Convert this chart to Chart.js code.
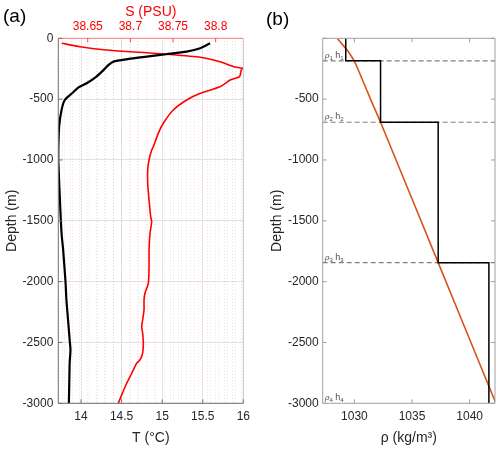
<!DOCTYPE html>
<html>
<head>
<meta charset="utf-8">
<script src="https://cdn.jsdelivr.net/npm/chart.js@4.4.1/dist/chart.umd.min.js"></script>
<style>
    body { margin: 0; background: #fff; width: 500px; height: 449px; overflow: hidden; position: relative; font-family: "Liberation Sans", Arial, sans-serif; }
    canvas { position: absolute; top: 0; }
    #profileChart { left: 0; }
    #densityChart { left: 250px; }
    .panel-tag { position: absolute; font-size: 19px; line-height: 1; color: #000; }
</style>
</head>
<body>
<canvas id="profileChart" width="250" height="449"></canvas>
<canvas id="densityChart" width="250" height="449"></canvas>
<div class="panel-tag" style="left:3px;top:6px;">(a)</div>
<div class="panel-tag" style="left:266px;top:9px;">(b)</div>
<script>
// panel (a): temperature profile
const tDepth = [-41, -82, -110, -131, -151, -173, -192, -219, -266, -315, -370, -403, -452, -507, -589, -726, -918,
                -1000, -1329, -1602, -1740, -2013, -2150, -2315, -2479, -2561, -2670, -2835, -3000];
const tempC = [15.59, 15.47, 15.30, 15.05, 14.81, 14.56, 14.40, 14.34, 14.27, 14.19, 14.07, 13.97, 13.89, 13.80, 13.76, 13.73, 13.72,
               13.72, 13.74, 13.76, 13.78, 13.81, 13.82, 13.84, 13.86, 13.87, 13.86, 13.855, 13.85];

// panel (a): salinity profile
const sDepth = [-41, -69, -96, -115, -131, -156, -192, -233, -247, -260, -315, -343, -398, -452, -507, -589, -698, -781, -891, -918,
                -1000, -1082, -1191, -1329, -1466, -1507, -1602, -1740, -1877, -2013, -2095, -2150, -2233, -2315, -2370, -2424,
                -2506, -2588, -2643, -2670, -2753, -2835, -2931, -3000];
const salt = [38.6195, 38.641, 38.672, 38.711, 38.743, 38.782, 38.805, 38.821, 38.8317, 38.830, 38.828, 38.817, 38.805, 38.782,
              38.766, 38.7503, 38.7386, 38.7327, 38.7269, 38.725, 38.7219, 38.7203, 38.7203, 38.7219, 38.7238, 38.725, 38.723,
              38.7219, 38.7219, 38.7211, 38.7171, 38.716, 38.716, 38.7144, 38.7133, 38.7144, 38.7152, 38.7144, 38.7113,
              38.7074, 38.7016, 38.6957, 38.6898, 38.6858];

// panel (b): continuous density and 4-layer approximation
const rhoDepth = [0, -50, -100, -150, -190, -240, -330, -500, -690, -1844, -3000];
const rhoCurve = [1028.5, 1028.95, 1029.4, 1029.75, 1030.0, 1030.25, 1030.65, 1031.4, 1032.27, 1037.27, 1042.28];
const layerRho = [1029.25, 1032.27, 1037.27, 1041.67];
const layerBottom = [-185, -690, -1844, -3000];

// axis limits
const depthMin = -3000, depthMax = 0;
const tMin = 13.72, tMax = 16;
const sMin = 38.6155, sMax = 38.8324;
const rhoMin = 1027.25, rhoMax = 1042.2;

const ink = '#262626';
Chart.defaults.font.family = '"Liberation Sans", Arial, sans-serif';
Chart.defaults.font.size = 12;
Chart.defaults.color = ink;

const isMajor = (v, step) => Math.abs(v / step - Math.round(v / step)) < 1e-6;
const toPoints = (xs, ys) => xs.map((x, i) => ({ x: x, y: ys[i] }));

// fixed axis box size, and no extra room for end labels (they may be clipped like the original)
const fixHeight = h => s => { s.height = h; s.paddingLeft = 0; s.paddingRight = 0; };

// box round the plot area + inward tick marks (MATLAB look)
function makeFrame(cfg) {
    return {
        id: 'frame',
        afterDraw(chart) {
            const { ctx, chartArea: a } = chart;
            ctx.save();
            ctx.lineWidth = 1;
            const edges = {
                top: [a.left, a.top, a.right, a.top],
                bottom: [a.left, a.bottom, a.right, a.bottom],
                left: [a.left, a.top, a.left, a.bottom],
                right: [a.right, a.top, a.right, a.bottom]
            };
            Object.keys(cfg.sides).forEach(k => {
                const [x1, y1, x2, y2] = edges[k];
                ctx.strokeStyle = cfg.sides[k];
                ctx.beginPath(); ctx.moveTo(x1, y1); ctx.lineTo(x2, y2); ctx.stroke();
            });
            cfg.marks.forEach(m => {
                const s = chart.scales[m.scale];
                ctx.strokeStyle = m.color;
                s.ticks.forEach(t => {
                    if (m.step && !isMajor(t.value, m.step)) return;
                    const p = s.getPixelForValue(t.value);
                    m.at.forEach(e => {
                        ctx.beginPath();
                        if (e === 'left') { ctx.moveTo(a.left, p); ctx.lineTo(a.left + 4, p); }
                        if (e === 'right') { ctx.moveTo(a.right, p); ctx.lineTo(a.right - 4, p); }
                        if (e === 'top') { ctx.moveTo(p, a.top); ctx.lineTo(p, a.top + 4); }
                        if (e === 'bottom') { ctx.moveTo(p, a.bottom); ctx.lineTo(p, a.bottom - 4); }
                        ctx.stroke();
                    });
                });
            });
            ctx.restore();
        }
    };
}

// small "rho_i h_i" tags above each layer bottom
const layerTags = {
    id: 'layerTags',
    afterDatasetsDraw(chart) {
        const { ctx, chartArea: a, scales: { y } } = chart;
        ctx.save();
        ctx.fillStyle = '#4d4d4d';
        ctx.textBaseline = 'alphabetic';
        layerBottom.forEach((d, i) => {
            const base = y.getPixelForValue(d) - 3;
            const n = String(i + 1);
            let x = a.left + 2;
            ctx.font = 'italic 8px "DejaVu Serif", serif';
            ctx.fillText('ρ', x, base); x += ctx.measureText('ρ').width;
            ctx.font = '6px "Liberation Sans", Arial, sans-serif';
            ctx.fillText(n, x, base + 2); x += ctx.measureText(n).width + 2.5;
            ctx.font = '9px "Liberation Sans", Arial, sans-serif';
            ctx.fillText('h', x, base); x += ctx.measureText('h').width;
            ctx.font = '6px "Liberation Sans", Arial, sans-serif';
            ctx.fillText(n, x, base + 2);
        });
        ctx.restore();
    }
};

// ---------- panel (a) ----------
new Chart(document.getElementById('profileChart'), {
    type: 'scatter',
    data: {
        datasets: [
            {
                label: 'T',
                data: toPoints(tempC, tDepth),
                xAxisID: 'xT',
                showLine: true,
                borderColor: '#000',
                borderWidth: 2.2,
                pointRadius: 0,
                tension: 0.2
            },
            {
                label: 'S',
                data: toPoints(salt, sDepth),
                xAxisID: 'xS',
                showLine: true,
                borderColor: '#ff0000',
                borderWidth: 1.6,
                pointRadius: 0,
                tension: 0.2
            }
        ]
    },
    options: {
        responsive: false,
        animation: false,
        layout: { padding: { left: 0, right: 6.7, top: 0, bottom: 0 } },
        plugins: { legend: { display: false }, tooltip: { enabled: false } },
        scales: {
            y: {
                type: 'linear', position: 'left', min: depthMin, max: depthMax,
                afterFit: s => { s.width = 58.3; },
                ticks: { stepSize: 500, padding: 5, color: ink, callback: v => String(v) },
                grid: { color: '#e2e2e2', drawTicks: false },
                border: { display: false },
                title: { display: true, text: 'Depth (m)', color: ink, font: { size: 14 } }
            },
            xT: {
                type: 'linear', position: 'bottom', min: tMin, max: tMax,
                afterFit: fixHeight(45.7),
                ticks: { stepSize: 0.5, includeBounds: false, padding: 6, color: ink, maxRotation: 0, autoSkip: false, callback: v => String(v) },
                grid: { color: '#e2e2e2', drawTicks: false },
                border: { display: false },
                title: { display: true, text: 'T (°C)', color: ink, font: { size: 14 }, padding: { top: 4, bottom: 2 } }
            },
            xTm: {
                type: 'linear', position: 'bottom', min: tMin, max: tMax,
                afterFit: fixHeight(0),
                ticks: { display: false, stepSize: 0.1, includeBounds: false, maxTicksLimit: 1000 },
                grid: { color: '#e8e8e8', drawTicks: false },
                border: { display: false, dash: [1, 2] }
            },
            xS: {
                type: 'linear', position: 'top', min: sMin, max: sMax,
                afterFit: fixHeight(38.3),
                ticks: {
                    stepSize: 0.01, includeBounds: false, maxTicksLimit: 1000, padding: 4, color: '#ff0000',
                    maxRotation: 0, autoSkip: false,
                    callback: v => isMajor(v, 0.05) ? String(+v.toFixed(2)) : ''
                },
                grid: { color: 'rgba(255,0,0,0.14)', drawTicks: false },
                border: { display: false, dash: [1, 2] },
                title: { display: true, text: 'S (PSU)', color: '#ff0000', font: { size: 14 } }
            }
        }
    },
    plugins: [makeFrame({
        sides: { left: '#707070', bottom: '#707070', top: '#ff8080', right: '#c8c8c8' },
        marks: [
            { scale: 'y', at: ['left'], color: '#707070' },
            { scale: 'xT', at: ['bottom'], color: '#707070' },
            { scale: 'xS', at: ['top'], color: '#ff4040', step: 0.05 }
        ]
    })]
});

// ---------- panel (b) ----------
const stepPts = [];
layerRho.forEach((r, i) => {
    stepPts.push({ x: r, y: i === 0 ? depthMax : layerBottom[i - 1] });
    stepPts.push({ x: r, y: layerBottom[i] });
});

const interfaceSets = layerBottom.slice(0, -1).map(d => ({
    data: [{ x: rhoMin, y: d }, { x: rhoMax, y: d }],
    showLine: true,
    borderColor: '#808080',
    borderWidth: 1.2,
    borderDash: [5, 3],
    pointRadius: 0
}));

new Chart(document.getElementById('densityChart'), {
    type: 'scatter',
    data: {
        datasets: [
            {
                label: 'layers',
                data: stepPts,
                showLine: true,
                borderColor: '#000',
                borderWidth: 1.5,
                pointRadius: 0
            },
            {
                label: 'rho',
                data: toPoints(rhoCurve, rhoDepth),
                showLine: true,
                borderColor: '#D95319',
                borderWidth: 1.6,
                pointRadius: 0,
                tension: 0.2
            },
            ...interfaceSets
        ]
    },
    options: {
        responsive: false,
        animation: false,
        layout: { padding: { left: 0, right: 5, top: 38.3, bottom: 0 } },
        plugins: { legend: { display: false }, tooltip: { enabled: false } },
        scales: {
            y: {
                type: 'linear', position: 'left', min: depthMin, max: depthMax,
                afterFit: s => { s.width = 72.7; },
                ticks: { stepSize: 500, padding: 4, color: ink, callback: v => v === 0 ? '' : String(v) },
                grid: { display: false, drawTicks: false },
                border: { display: false },
                title: { display: true, text: 'Depth (m)', color: ink, font: { size: 14 }, padding: { top: 18.3, bottom: 4 } }
            },
            x: {
                type: 'linear', position: 'bottom', min: rhoMin, max: rhoMax,
                afterFit: fixHeight(45.7),
                ticks: { stepSize: 5, includeBounds: false, padding: 6, color: ink, maxRotation: 0, callback: v => String(v) },
                grid: { display: false, drawTicks: false },
                border: { display: false },
                title: { display: true, text: 'ρ (kg/m³)', color: ink, font: { size: 14 }, padding: { top: 4, bottom: 2 } }
            }
        }
    },
    plugins: [layerTags, makeFrame({
        sides: { top: '#a0a0a0', bottom: '#a0a0a0', left: '#a0a0a0', right: '#a0a0a0' },
        marks: [
            { scale: 'y', at: ['left', 'right'], color: '#a0a0a0' },
            { scale: 'x', at: ['top', 'bottom'], color: '#a0a0a0' }
        ]
    })]
});
</script>
</body>
</html>
